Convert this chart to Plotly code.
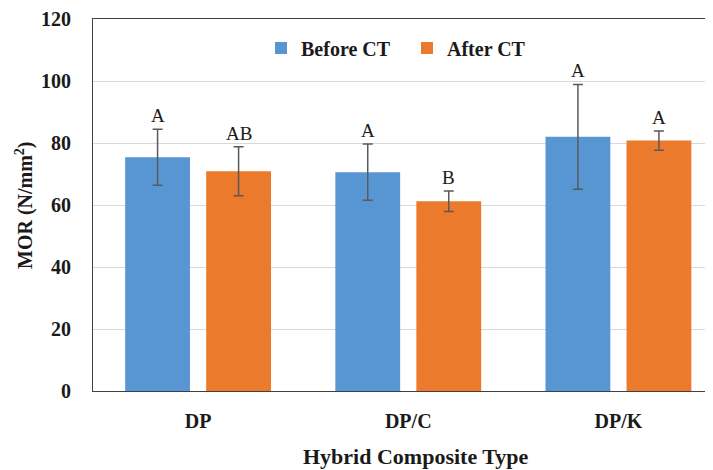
import plotly.graph_objects as go

categories = ["DP", "DP/C", "DP/K"]
before_ct = [75.4, 70.6, 82.0]
before_err = [9.0, 9.1, 16.9]
after_ct = [70.9, 61.2, 80.8]
after_err = [7.9, 3.3, 3.1]
before_letters = ["A", "A", "A"]
after_letters = ["AB", "B", "A"]

FONT = "Liberation Serif"
BLUE = "#5796d3"
ORANGE = "#ec7a2c"
TXT = "#1a1a1a"

# the page body has an 8px default margin; compensate so the plot lands where intended
PAGE_OFF = 8
W, H = 713, 470
PL, PR, PT, PB = 93, 713, 19, 391   # plot box in window pixels
ML = PL - PAGE_OFF
MT = PT - PAGE_OFF
MR = W - (PR - PAGE_OFF)
MB = H - (PB - PAGE_OFF)
BARGAP = 0.229
BARGROUPGAP = 0.2
XRANGE = [-0.5, 2.45]

fig = go.Figure()
fig.add_trace(go.Bar(
    name="Before CT", x=categories, y=before_ct,
    marker=dict(color=BLUE, line=dict(width=0)),
    error_y=dict(type="data", array=before_err, color="#5a5a5a", thickness=1.5, width=5),
))
fig.add_trace(go.Bar(
    name="After CT", x=categories, y=after_ct,
    marker=dict(color=ORANGE, line=dict(width=0)),
    error_y=dict(type="data", array=after_err, color="#5a5a5a", thickness=1.5, width=5),
))

plot_w = PR - PL
plot_h = PB - PT
cat_px = plot_w / (XRANGE[1] - XRANGE[0])
offset = (1 - BARGAP) * cat_px / 4

for i, c in enumerate(categories):
    for vals, errs, letters, sgn in ((before_ct, before_err, before_letters, -1),
                                      (after_ct, after_err, after_letters, 1)):
        fig.add_annotation(
            x=c, y=vals[i] + errs[i], text=letters[i], showarrow=False,
            xshift=sgn * offset, yanchor="bottom", yshift=1,
            font=dict(family=FONT, size=19, color=TXT),
        )

fig.add_annotation(
    text="Hybrid Composite Type", xref="paper", yref="paper",
    x=(416 - PL) / plot_w, y=-(456 - PB) / plot_h,
    xanchor="center", yanchor="middle", showarrow=False,
    font=dict(family=FONT, size=22, color=TXT, weight="bold"),
)
fig.add_annotation(
    text="MOR (N/mm<sup>2</sup>)", xref="paper", yref="paper",
    x=-(PL - 24) / plot_w, y=0.5, textangle=-90,
    xanchor="center", yanchor="middle", showarrow=False,
    font=dict(family=FONT, size=20, color=TXT, weight="bold"),
)

fig.update_layout(
    width=W, height=H,
    margin=dict(l=ML, r=MR, t=MT, b=MB, autoexpand=False),
    paper_bgcolor="white", plot_bgcolor="white",
    barmode="group", bargap=BARGAP, bargroupgap=BARGROUPGAP,
    font=dict(family=FONT, color=TXT),
    legend=dict(
        orientation="h", x=(261 - PL) / plot_w, xanchor="left", y=(PB - 48) / plot_h,
        yanchor="middle",
        font=dict(family=FONT, size=20, color=TXT, weight="bold"),
        bgcolor="rgba(0,0,0,0)", entrywidth=101, entrywidthmode="pixels",
        itemwidth=30, traceorder="normal",
    ),
    showlegend=True,
)
fig.update_xaxes(
    range=XRANGE, showline=True, linecolor="#404040", linewidth=1.2, mirror=True,
    ticks="", ticklabelstandoff=12, automargin=False,
    tickfont=dict(family=FONT, size=20, color=TXT, weight="bold"),
)
fig.update_yaxes(
    range=[0, 120], dtick=20, showline=True, linecolor="#404040", linewidth=1.2,
    showgrid=True, gridcolor="#d9d9d9", gridwidth=1.2, zeroline=False,
    ticks="", ticklabelstandoff=17, automargin=False,
    tickfont=dict(family=FONT, size=20, color=TXT, weight="bold"),
)

fig.write_html("out.html")
